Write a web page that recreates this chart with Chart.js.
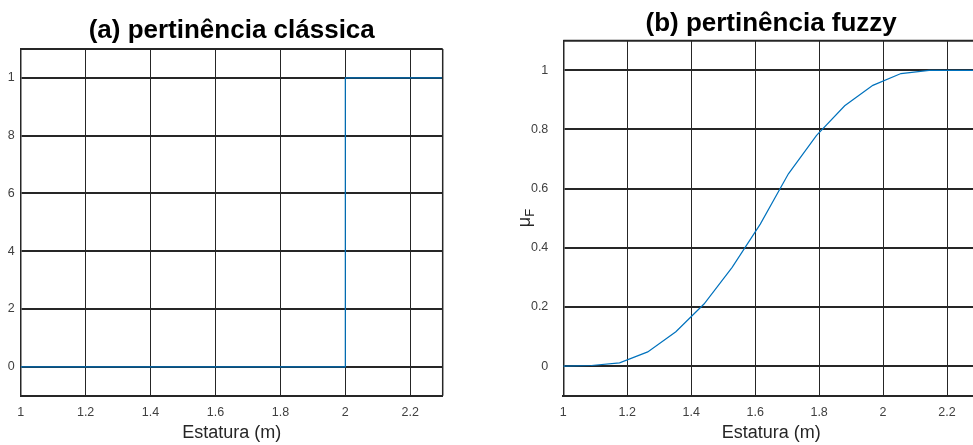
<!DOCTYPE html>
<html>
<head>
<meta charset="utf-8">
<script src="https://cdn.jsdelivr.net/npm/chart.js@4/dist/chart.umd.min.js"></script>
<style>
  html, body { margin: 0; padding: 0; background: #fff; overflow: hidden; width: 973px; height: 445px; }
  #boxA { position: absolute; left: 0; top: 0; width: 480px; height: 445px; }
  #boxB { position: absolute; left: 490px; top: 0; width: 495px; height: 445px; }
</style>
</head>
<body>
<div id="boxA"><canvas id="chartA" width="480" height="445"></canvas></div>
<div id="boxB"><canvas id="chartB" width="495" height="445"></canvas></div>
<script>
// dados
const xTicks = [1, 1.2, 1.4, 1.6, 1.8, 2, 2.2];
const xTickLabels = ['1', '1.2', '1.4', '1.6', '1.8', '2', '2.2'];
const yTicks = [0, 0.2, 0.4, 0.6, 0.8, 1];
const yTickLabelsA = ['0', '2', '4', '6', '8', '1']; // rótulos cortados como no original
const yTickLabelsB = ['0', '0.2', '0.4', '0.6', '0.8', '1'];

// (a) pertinência clássica
const estaturaA = [1, 2, 2, 2.3];
const pertinenciaA = [0, 0, 1, 1];

// (b) pertinência fuzzy
const estaturaB = [1, 1.088, 1.176, 1.264, 1.352, 1.44, 1.528, 1.616, 1.704, 1.792, 1.88, 1.968, 2.056, 2.144, 2.232, 2.32];
const pertinenciaB = [0, 0.002, 0.011, 0.048, 0.116, 0.21, 0.334, 0.48, 0.65, 0.78, 0.88, 0.949, 0.989, 1, 1, 1];

const FONT = '"Liberation Sans", Arial, sans-serif';
const LINE = '#0072BD';
const GRID = '#262626';

// desenha as bordas de cima e da direita
const caixa = {
  id: 'caixa',
  afterDatasetsDraw(chart, args, opts) {
    const a = chart.chartArea, ctx = chart.ctx;
    ctx.save();
    ctx.strokeStyle = GRID;
    ctx.lineWidth = 2;
    ctx.beginPath();
    ctx.moveTo(a.left, a.top);
    ctx.lineTo(a.right, a.top);
    ctx.stroke();
    if (opts.right) {
      ctx.lineWidth = 1.5;
      ctx.beginPath();
      ctx.moveTo(a.right, a.top);
      ctx.lineTo(a.right, a.bottom);
      ctx.stroke();
    }
    ctx.restore();
  }
};

function pontos(xs, ys) {
  return xs.map((x, i) => ({ x: x, y: ys[i] }));
}

function config(titulo, xs, ys, yLabels, yWidth, yPad, titlePad, padRight, temDireita) {
  return {
    type: 'line',
    data: {
      datasets: [{
        data: pontos(xs, ys),
        borderColor: LINE,
        borderWidth: 1.2,
        pointRadius: 0,
        tension: 0,
        fill: false
      }]
    },
    options: {
      responsive: false,
      devicePixelRatio: 1,
      animation: false,
      layout: { padding: { left: 0, right: padRight, top: 0, bottom: 0 } },
      plugins: {
        legend: { display: false },
        tooltip: { enabled: false },
        title: {
          display: true,
          fullSize: false,
          text: titulo,
          color: '#000',
          font: { family: FONT, size: 26, weight: 'bold', lineHeight: 1.2 },
          padding: titlePad
        },
        caixa: { right: temDireita }
      },
      scales: {
        x: {
          type: 'linear',
          min: 1,
          max: 2.3,
          afterBuildTicks: s => { s.ticks = xTicks.map(v => ({ value: v })); },
          afterFit: s => { s.height = 49.3; },
          ticks: {
            callback: (v, i) => xTickLabels[i],
            color: '#404040',
            font: { family: FONT, size: 12.5 },
            padding: 9,
            maxRotation: 0
          },
          grid: { color: GRID, lineWidth: 1, drawTicks: false },
          border: { color: GRID, width: 2 },
          title: {
            display: true,
            text: 'Estatura (m)',
            color: '#262626',
            font: { family: FONT, size: 18 },
            padding: { top: 0, bottom: 1 }
          }
        },
        y: {
          type: 'linear',
          min: -0.1,
          max: 1.1,
          afterBuildTicks: s => { s.ticks = yTicks.map(v => ({ value: v })); },
          afterFit: s => { s.width = yWidth; },
          ticks: {
            callback: (v, i) => yLabels[i],
            color: '#404040',
            font: { family: FONT, size: 12.5 },
            padding: yPad
          },
          grid: { color: GRID, lineWidth: 2, drawTicks: false },
          border: { color: GRID, width: 1.5 }
        }
      }
    },
    plugins: [caixa]
  };
}

// rótulo μF com F subscrito
const rotuloMu = {
  id: 'rotuloMu',
  afterDraw(chart) {
    const ctx = chart.ctx;
    ctx.save();
    ctx.translate(35.7, 218);
    ctx.rotate(-Math.PI / 2);
    ctx.fillStyle = '#262626';
    ctx.textBaseline = 'alphabetic';
    ctx.textAlign = 'left';
    ctx.font = '18px ' + FONT;
    const wMu = ctx.measureText('μ').width;
    ctx.font = '13px ' + FONT;
    const wF = ctx.measureText('F').width;
    const x0 = -(wMu + wF) / 2;
    ctx.font = '18px ' + FONT;
    ctx.fillText('μ', x0, 4);
    ctx.font = '13px ' + FONT;
    ctx.fillText('F', x0 + wMu, 8);
    ctx.restore();
  }
};

Chart.register(caixa);

const chartA = new Chart(document.getElementById('chartA'),
  config('(a) pertinência clássica', estaturaA, pertinenciaA, yTickLabelsA, 20.7, 6, { top: 15, bottom: 2.8 }, 37.3, true));

const cfgB = config('(b) pertinência fuzzy', estaturaB, pertinenciaB, yTickLabelsB, 73.3, 15, { top: 8, bottom: 1.5 }, 6, false);
cfgB.plugins.push(rotuloMu);
const chartB = new Chart(document.getElementById('chartB'), cfgB);
</script>
</body>
</html>
